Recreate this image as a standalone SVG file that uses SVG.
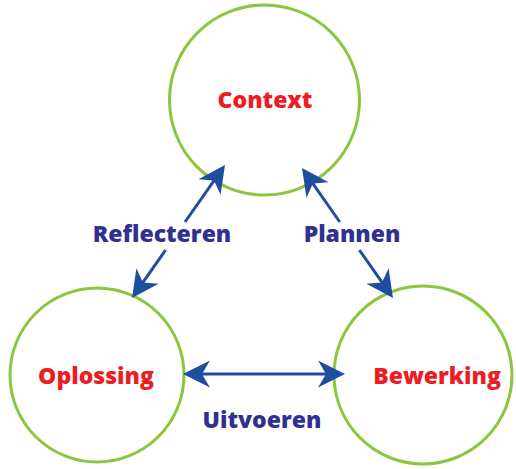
<svg xmlns="http://www.w3.org/2000/svg" width="516" height="469" viewBox="0 0 516 469">
<style>
.node{fill:#fff;stroke:#8cc63f;stroke-width:3}
.ntext{font-family:"Open Sans","Noto Sans",sans-serif;font-weight:800;font-size:23px;fill:#ed1c24;text-anchor:middle}
.ltext{font-family:"Open Sans","Noto Sans",sans-serif;font-weight:800;font-size:23px;fill:#2e3192;text-anchor:middle}
.conn{stroke:#1f4e9f;stroke-width:3;fill:none}
</style>
<defs>
<marker id="ah" markerUnits="userSpaceOnUse" viewBox="0 -14 28 28" refX="15" refY="0" markerWidth="28" markerHeight="28" orient="auto-start-reverse">
<path d="M0,-13.5 L27,0 L0,13.5 L8,0 Z" fill="#1f4e9f"/>
</marker>
</defs>
<g id="context"><circle class="node" cx="264.5" cy="100" r="95"/><text class="ntext" x="265" y="108">Context</text></g>
<g id="oplossing"><circle class="node" cx="97" cy="375" r="87"/><text class="ntext" x="96" y="384">Oplossing</text></g>
<g id="bewerking"><circle class="node" cx="423" cy="375" r="89"/><text class="ntext" x="437" y="384">Bewerking</text></g>
<g id="connectors">
<line class="conn" x1="185" y1="222" x2="218.1" y2="174.8" marker-end="url(#ah)"/>
<line class="conn" x1="165.6" y1="250" x2="138.9" y2="288.2" marker-end="url(#ah)"/>
<line class="conn" x1="339.8" y1="222" x2="308.9" y2="177.8" marker-end="url(#ah)"/>
<line class="conn" x1="359.4" y1="250" x2="386.1" y2="288.2" marker-end="url(#ah)"/>
<line class="conn" x1="195" y1="374" x2="333" y2="374" marker-start="url(#ah)" marker-end="url(#ah)"/>
</g>
<g id="labels">
<text class="ltext" x="162" y="242">Reflecteren</text>
<text class="ltext" x="352" y="242">Plannen</text>
<text class="ltext" x="262" y="428">Uitvoeren</text>
</g>
</svg>
